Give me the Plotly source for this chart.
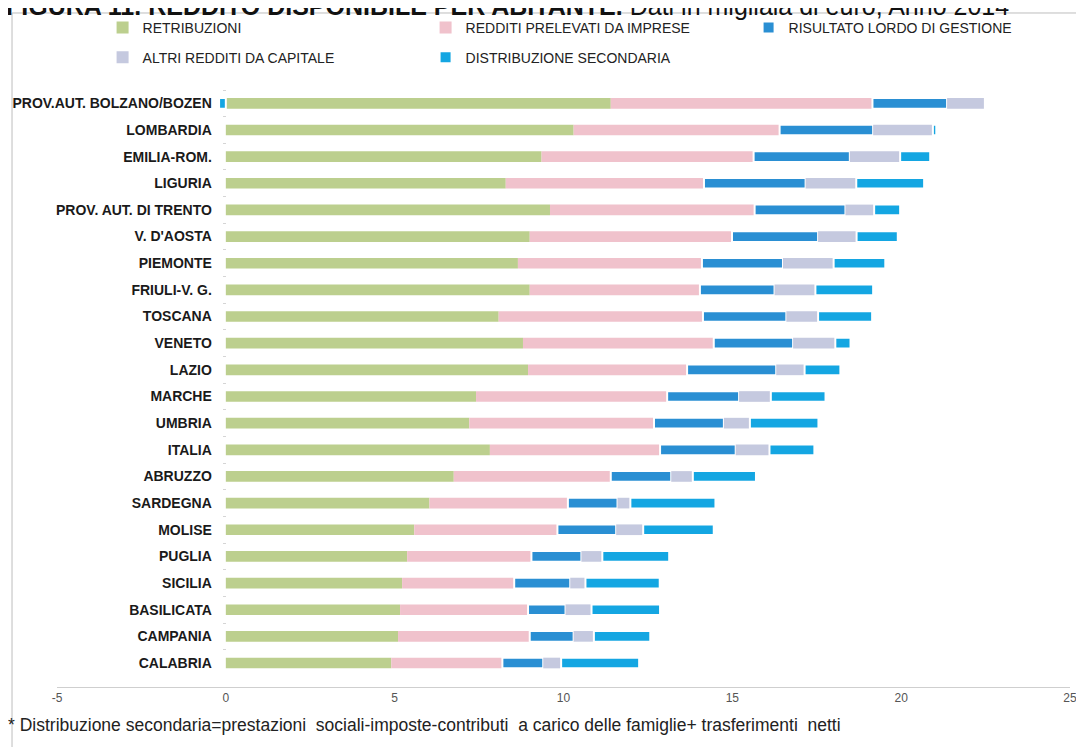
import plotly.graph_objects as go

regions = ["PROV.AUT. BOLZANO/BOZEN", "LOMBARDIA", "EMILIA-ROM.", "LIGURIA",
           "PROV. AUT. DI TRENTO", "V. D'AOSTA", "PIEMONTE", "FRIULI-V. G.",
           "TOSCANA", "VENETO", "LAZIO", "MARCHE", "UMBRIA", "ITALIA",
           "ABRUZZO", "SARDEGNA", "MOLISE", "PUGLIA", "SICILIA", "BASILICATA",
           "CAMPANIA", "CALABRIA"]

retribuzioni = [11.4, 10.3, 9.35, 8.29, 9.6, 9.0, 8.65, 9.0, 8.08, 8.8, 8.95,
                7.41, 7.21, 7.82, 6.75, 6.03, 5.58, 5.37, 5.22, 5.16, 5.1, 4.9]
redditi_imprese = [7.75, 6.1, 6.28, 5.87, 6.06, 5.99, 5.45, 5.04, 6.05, 5.65, 4.71,
                   5.66, 5.47, 5.04, 4.65, 4.1, 4.24, 3.68, 3.32, 3.79, 3.9, 3.29]
risultato_lordo = [2.21, 2.77, 2.85, 3.01, 2.69, 2.55, 2.4, 2.21, 2.47, 2.35, 2.64,
                   2.13, 2.07, 2.24, 1.79, 1.47, 1.74, 1.48, 1.66, 1.11, 1.3, 1.21]
altri_redditi = [1.09, 1.77, 1.49, 1.5, 0.85, 1.14, 1.5, 1.21, 0.94, 1.25, 0.84,
                 0.94, 0.77, 1.0, 0.64, 0.38, 0.8, 0.62, 0.45, 0.77, 0.6, 0.53]
distribuzione = [-0.2, 0.1, 0.89, 2.01, 0.77, 1.22, 1.53, 1.71, 1.6, 0.45, 1.06,
                 1.62, 2.03, 1.33, 1.87, 2.52, 2.09, 1.98, 2.2, 2.03, 1.67, 2.31]

x_ticks = [-5, 0, 5, 10, 15, 20, 25]

series = [
    ("RETRIBUZIONI", retribuzioni, "#bccf8e", 0, "legend"),
    ("REDDITI PRELEVATI DA IMPRESE", redditi_imprese, "#f0c2cc", 0, "legend"),
    ("RISULTATO LORDO DI GESTIONE", risultato_lordo, "#2a8fd3", 2, "legend"),
    ("ALTRI REDDITI DA CAPITALE", altri_redditi, "#c5c9df", 0, "legend2"),
    ("DISTRIBUZIONE SECONDARIA", distribuzione, "#14a6e2", 2, "legend2"),
]

fig = go.Figure()
for name, vals, color, lw, leg in series:
    fig.add_trace(go.Bar(
        y=regions, x=vals, name=name, orientation="h",
        marker=dict(color=color, line=dict(color="white", width=lw)),
        legend=leg,
    ))

font_main = "Liberation Sans, Arial, sans-serif"

fig.update_layout(
    width=1084, height=747,
    margin=dict(l=49, r=22, t=82, b=68, autoexpand=False),
    barmode="relative",
    bargap=0.6,
    paper_bgcolor="white",
    plot_bgcolor="white",
    font=dict(family=font_main, color="#222"),
    legend=dict(orientation="h", x=0.045, xanchor="left", y=1.104, yanchor="middle",
                entrywidth=278, entrywidthmode="pixels", itemwidth=30,
                font=dict(size=14, color="#222"), bgcolor="rgba(0,0,0,0)",
                traceorder="normal", itemclick=False),
    legend2=dict(orientation="h", x=0.045, xanchor="left", y=1.054, yanchor="middle",
                 entrywidth=278, entrywidthmode="pixels", itemwidth=30,
                 font=dict(size=14, color="#222"), bgcolor="rgba(0,0,0,0)",
                 traceorder="normal", itemclick=False),
    xaxis=dict(range=[-5, 25], tickvals=x_ticks, ticktext=[str(v) for v in x_ticks],
               showgrid=False, zeroline=False, showline=True, linecolor="#cfcfcf",
               linewidth=1, ticks="", automargin=False,
               tickfont=dict(size=12, color="#555")),
    yaxis=dict(categoryorder="array", categoryarray=regions,
               range=[21.9, -0.5], anchor="free", position=5 / 30,
               showgrid=False, zeroline=False, showline=False, automargin=False,
               ticks="outside", tickson="boundaries", ticklen=3, tickcolor="#d5d5d5",
               ticklabelstandoff=14,
               tickfont=dict(size=14, color="#1a1a1a", family=font_main, weight="bold")),
    showlegend=True,
)

# outer frame
fig.add_shape(type="rect", xref="paper", yref="paper",
              x0=-0.0444, x1=1.0109, y0=-0.12, y1=1.129,
              line=dict(color="#bdbdbd", width=1), fillcolor="rgba(0,0,0,0)", layer="below")

# title (partially cut at the top, as in the reference)
fig.add_annotation(xref="paper", yref="paper", x=-0.052, y=1.1406,
                   xanchor="left", yanchor="middle", showarrow=False,
                   text="<b>FIGURA 11. REDDITO DISPONIBILE PER ABITANTE.</b> Dati in migliaia di euro, Anno 2014",
                   font=dict(size=25, color="#111", family=font_main))

# footnote
fig.add_annotation(xref="paper", yref="paper", x=-0.05, y=-0.064,
                   xanchor="left", yanchor="middle", showarrow=False,
                   text="* Distribuzione secondaria=prestazioni  sociali-imposte-contributi  a carico delle famiglie+ trasferimenti  netti",
                   font=dict(size=17.5, color="#222", family=font_main))

fig.write_html("out.html")
